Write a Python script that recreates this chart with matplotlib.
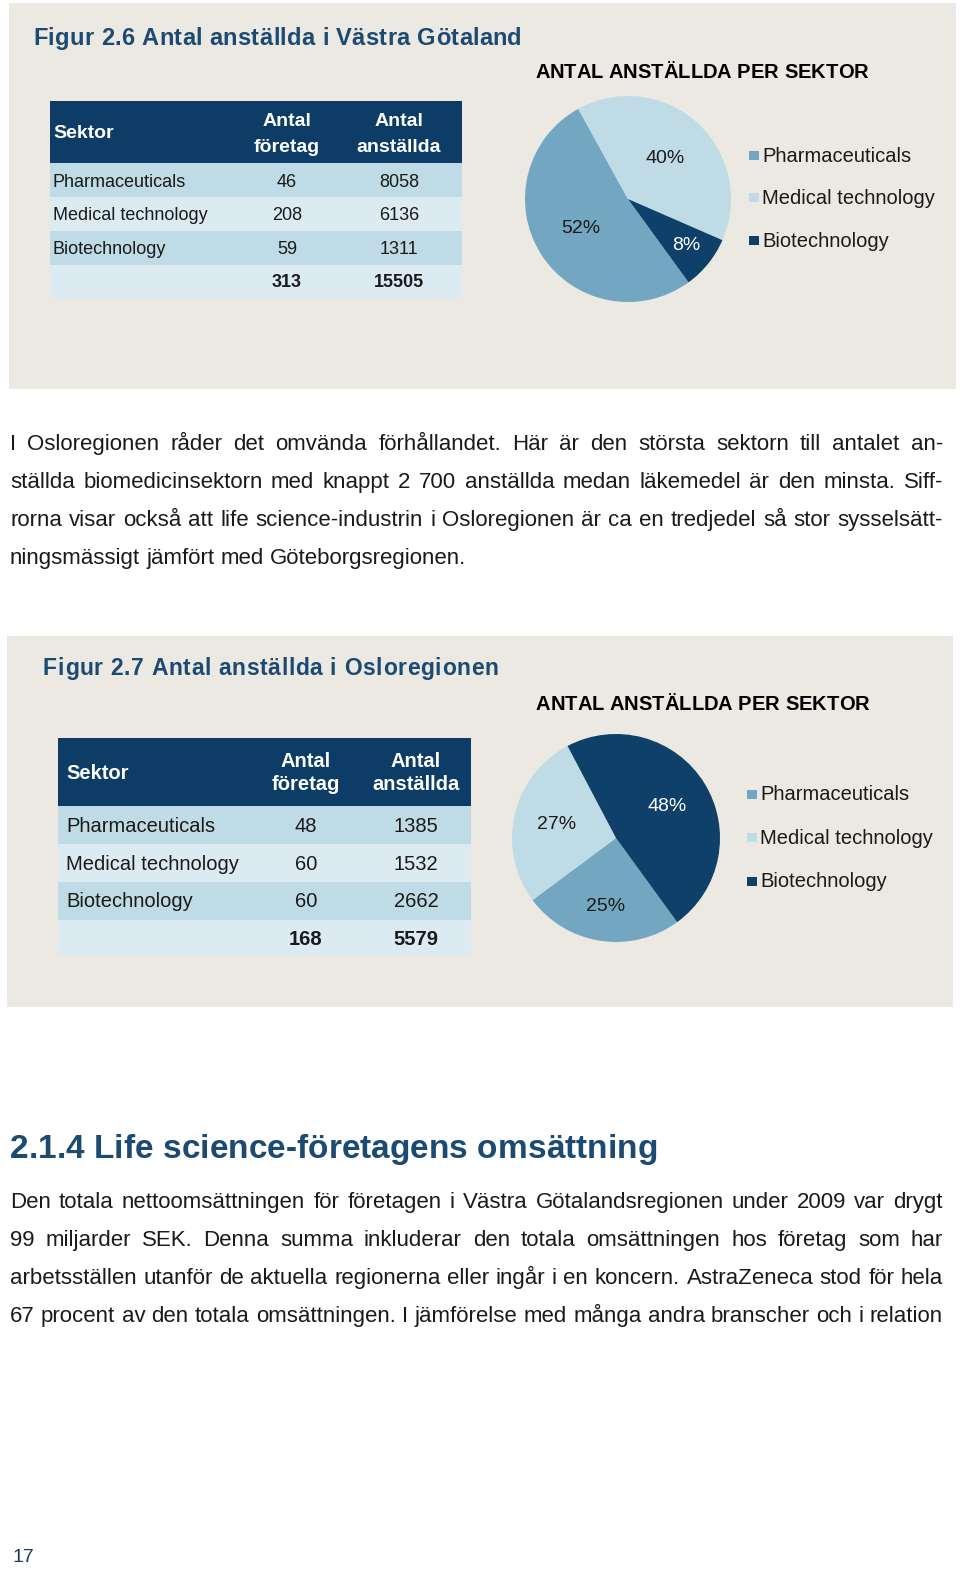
import math
import matplotlib
matplotlib.use('Agg')
import matplotlib.pyplot as plt
from matplotlib.patches import Rectangle

plt.rcParams['font.family'] = ['Liberation Sans', 'DejaVu Sans']

# ---------------- data ----------------
sectors = ['Pharmaceuticals', 'Medical technology', 'Biotechnology']
vg_companies = [46, 208, 59]
vg_employees = [8058, 6136, 1311]
oslo_companies = [48, 60, 60]
oslo_employees = [1385, 1532, 2662]
header_labels = ['Sektor', ['Antal', 'företag'], ['Antal', 'anställda']]

fig1_title = 'Figur 2.6 Antal anställda i Västra Götaland'
fig2_title = 'Figur 2.7 Antal anställda i Osloregionen'
pie_title = 'ANTAL ANSTÄLLDA PER SEKTOR'
section_heading = '2.1.4 Life science-företagens omsättning'
para1 = [
    'I Osloregionen råder det omvända förhållandet. Här är den största sektorn till antalet an-',
    'ställda biomedicinsektorn med knappt 2 700 anställda medan läkemedel är den minsta. Siff-',
    'rorna visar också att life science-industrin i Osloregionen är ca en tredjedel så stor sysselsätt-',
    'ningsmässigt jämfört med Göteborgsregionen.',
]
para2 = [
    'Den totala nettoomsättningen för företagen i Västra Götalandsregionen under 2009 var drygt',
    '99 miljarder SEK. Denna summa inkluderar den totala omsättningen hos företag som har',
    'arbetsställen utanför de aktuella regionerna eller ingår i en koncern. AstraZeneca stod för hela',
    '67 procent av den totala omsättningen. I jämförelse med många andra branscher och i relation',
]
page_number = '17'

# ---------------- style ----------------
BEIGE = '#ece8e2'
NAVY = '#0d3d66'
TITLE_BLUE = '#1b4a72'
ROW_DARK = '#bfdbe5'
ROW_LIGHT = '#dcebf1'
SECTOR_COLORS = ['#73a7c1', '#bfdce6', '#0e4069']
TEXT = '#1a1a1a'

W, H = 960, 1574
fig = plt.figure(figsize=(W / 100, H / 100), dpi=100)
fig.patch.set_facecolor('white')
bg = fig.add_axes([0, 0, 1, 1])
bg.set_xlim(0, W)
bg.set_ylim(H, 0)
bg.axis('off')
R = fig.canvas.get_renderer()


def text_width(s, **kw):
    t = bg.text(0, 0, s, **kw)
    w = t.get_window_extent(R).width
    t.remove()
    return w


def tracked(x, y, s, target, **kw):
    base = text_width('xx', **kw)
    advs = [text_width('x' + c + 'x', **kw) - base for c in s]
    natural = sum(advs[:-1]) + text_width(s[-1], **kw)
    extra = (target - natural) / (len(s) - 1)
    cx = x
    for c, a in zip(s, advs):
        if c != ' ':
            bg.text(cx, y, c, ha='left', va='baseline', **kw)
        cx += a + extra


def justify(line, x0, x1, y, size, last=False, **kw):
    words = line.split(' ')
    while True:
        ws = [text_width(w, fontsize=size, **kw) for w in words]
        if last:
            gap = text_width('x x', fontsize=size, **kw) - text_width('xx', fontsize=size, **kw)
            break
        gap = (x1 - x0 - sum(ws)) / (len(words) - 1)
        if gap >= 0.2 * size * 100 / 72:
            break
        size -= 0.25
    cx = x0
    for w, wd in zip(words, ws):
        bg.text(cx, y, w, fontsize=size, ha='left', va='baseline', **kw)
        cx += wd + gap


def draw_table(x0, x1, ytops, cols, left_x, head_bl, body_bl, comp, emp, fs_head, fs_body):
    bg.add_patch(Rectangle((x0, ytops[0]), x1 - x0, ytops[1] - ytops[0], color=NAVY, lw=0))
    row_cols = [ROW_DARK, ROW_LIGHT, ROW_DARK, ROW_LIGHT]
    for i in range(4):
        bg.add_patch(Rectangle((x0, ytops[i + 1]), x1 - x0, ytops[i + 2] - ytops[i + 1],
                               color=row_cols[i], lw=0))
    bg.text(left_x, head_bl[0], header_labels[0], color='white', fontsize=fs_head,
            fontweight='bold', ha='left', va='baseline')
    for cx, lab in zip(cols, header_labels[1:]):
        for ln, bl in zip(lab, head_bl[1:]):
            bg.text(cx, bl, ln, color='white', fontsize=fs_head, fontweight='bold',
                    ha='center', va='baseline')
    for i, s in enumerate(sectors):
        bg.text(left_x, body_bl[i], s, color=TEXT, fontsize=fs_body, ha='left', va='baseline')
        bg.text(cols[0], body_bl[i], str(comp[i]), color=TEXT, fontsize=fs_body,
                ha='center', va='baseline')
        bg.text(cols[1], body_bl[i], str(emp[i]), color=TEXT, fontsize=fs_body,
                ha='center', va='baseline')
    bg.text(cols[0], body_bl[3], str(sum(comp)), color=TEXT, fontsize=fs_body,
            fontweight='bold', ha='center', va='baseline')
    bg.text(cols[1], body_bl[3], str(sum(emp)), color=TEXT, fontsize=fs_body,
            fontweight='bold', ha='center', va='baseline')


def draw_pie(cx, cy, r, values, label_r, label_colors, legend_x, legend_tops, legend_bl, text_x):
    ax = fig.add_axes([(cx - r) / W, 1 - (cy + r) / H, 2 * r / W, 2 * r / H])
    wedges, _, autotexts = ax.pie(values, colors=SECTOR_COLORS, startangle=-54,
                                  counterclock=False, autopct='%.0f%%',
                                  textprops=dict(fontsize=14, color=TEXT),
                                  wedgeprops=dict(linewidth=0))
    ax.set_xlim(-1, 1)
    ax.set_ylim(-1, 1)
    ax.axis('off')
    for w, t, d, c in zip(wedges, autotexts, label_r, label_colors):
        mid = math.radians((w.theta1 + w.theta2) / 2)
        t.set_position((d * math.cos(mid), d * math.sin(mid)))
        t.set_color(c)
    for w, s, top, bl in zip(wedges, sectors, legend_tops, legend_bl):
        bg.add_patch(Rectangle((legend_x, top), 10, 9, color=w.get_facecolor(), lw=0))
        bg.text(text_x, bl, s, fontsize=14.5, color=TEXT, ha='left', va='baseline')


# ---------------- panel 1 ----------------
bg.add_patch(Rectangle((9, 3), 947, 386, color=BEIGE, lw=0))
tracked(33, 45, fig1_title, 489, fontsize=17, fontweight='bold', color=TITLE_BLUE)
tracked(535, 78, pie_title, 333, fontsize=14.5, fontweight='bold', color='black')
draw_table(50, 462, [101, 163, 197, 231, 265, 298], [287, 399], 53,
           [138, 126, 152], [187, 220, 254, 287], vg_companies, vg_employees, 14, 13)
draw_pie(628, 199, 103, vg_employees, [0.54, 0.53, 0.72], [TEXT, TEXT, 'white'],
         749, [151, 193, 236], [162, 204, 247], 762)

# ---------------- paragraph 1 ----------------
for i, line in enumerate(para1):
    justify(line, 10, 943, 450 + 38 * i, 16, last=(i == len(para1) - 1), color=TEXT)

# ---------------- panel 2 ----------------
bg.add_patch(Rectangle((7, 636), 946, 371, color=BEIGE, lw=0))
tracked(43, 675, fig2_title, 455, fontsize=16.5, fontweight='bold', color=TITLE_BLUE)
tracked(536, 710, pie_title, 333, fontsize=14.5, fontweight='bold', color='black')
draw_table(58, 471, [738, 806, 844, 882, 920, 956], [306, 416], 66,
           [779, 767, 790], [832, 870, 907, 945], oslo_companies, oslo_employees, 14.5, 14.5)
draw_pie(616, 838, 104, oslo_employees, [0.67, 0.59, 0.58], [TEXT, TEXT, 'white'],
         747, [790, 833, 877], [800, 844, 887], 760)

# ---------------- section text ----------------
tracked(10, 1158, section_heading, 648, fontsize=24, fontweight='bold', color=TITLE_BLUE)
for i, line in enumerate(para2):
    justify(line, 10, 943, 1208 + 38 * i, 16, color=TEXT)

bg.text(12, 1562, page_number, fontsize=14, color='#1f3b5c', ha='left', va='baseline')

fig.savefig('out.png', dpi=100, facecolor='white')
